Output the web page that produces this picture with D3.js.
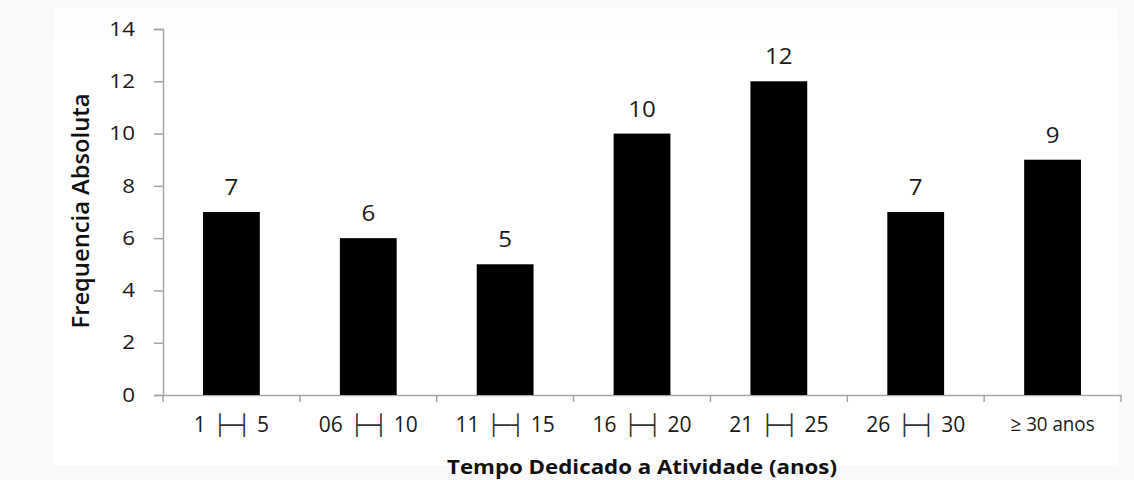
<!DOCTYPE html>
<html>
<head>
<meta charset="utf-8">
<script src="https://cdn.jsdelivr.net/npm/d3@7"></script>
<style>
  html, body { margin: 0; padding: 0; background: #ffffff; }
  svg { display: block; }
  text { font-family: "Open Sans", "Noto Sans", sans-serif; }
</style>
</head>
<body>
<svg id="chart" width="1134" height="480"></svg>
<script>
// Frequência absoluta por tempo dedicado à atividade
const categories = ["1 ├─┤ 5", "06 ├─┤ 10", "11 ├─┤ 15", "16 ├─┤ 20", "21 ├─┤ 25", "26 ├─┤ 30", "≥ 30 anos"];
const values = [7, 6, 5, 10, 12, 7, 9];
const yTicks = [0, 2, 4, 6, 8, 10, 12, 14];

const svg = d3.select("#chart");
const W = 1134, H = 480;
const plotLeft = 163, plotRight = 1121, plotTop = 29, plotBottom = 395;
const SX = 1.15;         // horizontal widening of the lettering
const axisGrey = "#a6a6a6";
const INTERVAL = "├─┤";

// faint frame around the plot area
svg.append("rect").attr("width", W).attr("height", H).attr("fill", "#f9f9f9");
svg.append("rect").attr("x", 53).attr("y", 38).attr("width", 1118 - 53).attr("height", 465 - 38).attr("fill", "#ffffff");
svg.append("rect").attr("x", 53).attr("y", 8).attr("width", 1118 - 53).attr("height", 30).attr("fill", "#fdfdfd");

const x = d3.scaleBand().domain(categories).range([plotLeft, plotRight]).paddingInner(0.585).paddingOuter(0.2925);
const y = d3.scaleLinear().domain([0, 14]).range([plotBottom, plotTop]);

// y axis
const yAxis = svg.append("g").attr("transform", `translate(${plotLeft},0)`)
  .call(d3.axisLeft(y).tickValues(yTicks).tickSize(9).tickPadding(19));
yAxis.select(".domain").attr("stroke", axisGrey).attr("stroke-width", 1.5);
yAxis.selectAll(".tick line").attr("stroke", axisGrey).attr("stroke-width", 1.5);
yAxis.selectAll(".tick text")
  .attr("font-size", 19.5).attr("fill", "#1a1a1a")
  .attr("x", -28 / SX)
  .attr("transform", `scale(${SX},1)`);

// x axis; the interval sign uses box-drawing glyphs
const xAxis = svg.append("g").attr("transform", `translate(0,${plotBottom})`)
  .call(d3.axisBottom(x).tickSize(0).tickPadding(22));
xAxis.select(".domain").attr("stroke", axisGrey).attr("stroke-width", 1.5);
xAxis.selectAll(".tick text").attr("font-size", 21).attr("fill", "#1a1a1a")
  .each(function (d) {
    const t = d3.select(this).text("");
    const parts = d.split(INTERVAL);
    if (parts.length === 2) {
      t.append("tspan").text(parts[0].trimEnd());
      t.append("tspan").attr("dx", 8)
        .attr("font-family", "DejaVu Sans, sans-serif")
        .attr("font-size", 20).attr("fill", "#333")
        .text(INTERVAL);
      t.append("tspan").attr("dx", 7).text(parts[1].trimStart());
    } else {
      t.attr("font-size", 20).attr("textLength", 84).attr("lengthAdjust", "spacingAndGlyphs").text(d);
    }
  });

// category separators along the baseline
const step = x.step();
svg.append("g").selectAll("line")
  .data(d3.range(categories.length + 1))
  .join("line")
  .attr("x1", i => plotLeft + i * step).attr("x2", i => plotLeft + i * step)
  .attr("y1", plotBottom).attr("y2", plotBottom + 7)
  .attr("stroke", axisGrey).attr("stroke-width", 1.5);

// bars
svg.append("g").selectAll("rect")
  .data(values)
  .join("rect")
  .attr("x", (d, i) => x(categories[i]))
  .attr("y", d => y(d))
  .attr("width", x.bandwidth())
  .attr("height", d => y(0) - y(d))
  .attr("fill", "#000");

// value labels above the bars
svg.append("g").selectAll("text")
  .data(values)
  .join("text")
  .attr("transform", (d, i) => `translate(${x(categories[i]) + x.bandwidth() / 2},${y(d) - 17}) scale(${SX},1)`)
  .attr("text-anchor", "middle")
  .attr("font-size", 21)
  .attr("fill", "#1a1a1a")
  .text(d => d);

// axis titles
svg.append("text")
  .attr("transform", `translate(89,211) rotate(-90)`)
  .attr("text-anchor", "middle")
  .attr("font-weight", 600)
  .attr("font-size", 23)
  .attr("textLength", 235)
  .attr("lengthAdjust", "spacingAndGlyphs")
  .attr("fill", "#111")
  .text("Frequencia Absoluta");

svg.append("text")
  .attr("x", 642)
  .attr("y", 474)
  .attr("text-anchor", "middle")
  .attr("font-weight", "bold")
  .attr("font-size", 19.5)
  .attr("textLength", 390)
  .attr("lengthAdjust", "spacingAndGlyphs")
  .attr("fill", "#111")
  .text("Tempo Dedicado a Atividade (anos)");
</script>
</body>
</html>
